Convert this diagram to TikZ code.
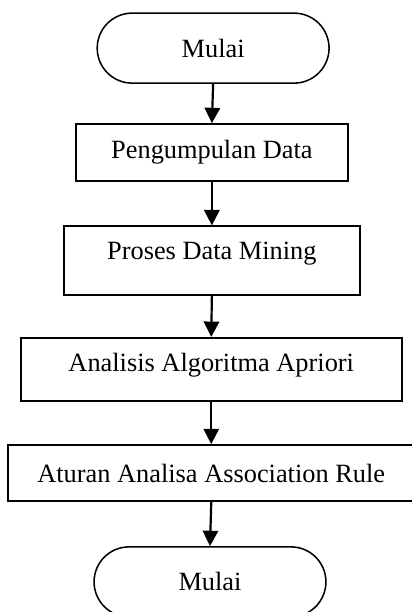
\documentclass[tikz,border=0pt]{standalone}
\usepackage{fontspec}
\setmainfont{Liberation Serif}
\usetikzlibrary{shapes.misc,arrows.meta}

\begin{document}
\begin{tikzpicture}[thick, scale=1,
  every node/.style={font=\fontsize{12}{14}\selectfont, inner sep=0pt},
  terminal/.style={draw, line width=0.7pt, rounded rectangle, minimum width=3.71cm, minimum height=1.12cm},
  process/.style={draw, line width=0.8pt, rectangle, minimum height=0.9cm},
  flow/.style={-{Triangle[length=7pt,width=7pt]}, line width=1pt}]

% page frame
\useasboundingbox (0,0) rectangle (6.592,-9.792);

% start and end
\node[terminal] (mulai) at (3.41,-0.77) {Mulai};
\node[terminal] (selesai) at (3.36,-9.31) {Mulai};

% process steps
\node[process, minimum width=4.35cm, minimum height=0.91cm] (kumpul) at (3.39,-2.44) {Pengumpulan Data};
\node[process, minimum width=4.74cm, minimum height=1.10cm, text depth=9pt] (mining) at (3.39,-4.17) {Proses Data Mining};
\node[process, minimum width=6.10cm, minimum height=1.01cm, text depth=6pt] (apriori) at (3.38,-5.91) {Analisis Algoritma Apriori};
\node[process, minimum width=6.51cm, minimum height=0.90cm] (aturan) at (3.38,-7.57) {Aturan Analisa Association Rule};

% arrows
\draw[flow] (mulai.south) -- (kumpul.north);
\draw[flow] (kumpul.south) -- (mining.north);
\draw[flow] (mining.south) -- (apriori.north);
\draw[flow] (apriori.south) -- (aturan.north);
\draw[flow] (aturan.south) -- (selesai.north);

\end{tikzpicture}
\end{document}
